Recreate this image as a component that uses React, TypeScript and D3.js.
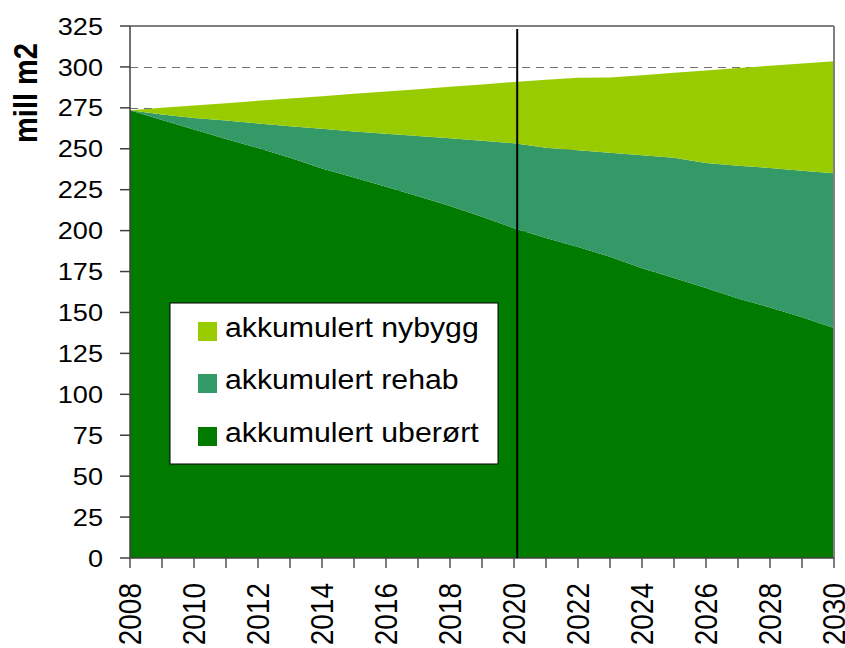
import React from "react";
import * as d3 from "d3";

const years = [
  2008, 2009, 2010, 2011, 2012, 2013, 2014, 2015, 2016, 2017, 2018, 2019,
  2020, 2021, 2022, 2023, 2024, 2025, 2026, 2027, 2028, 2029, 2030,
];
const uberort = [
  273.5, 267.5, 261.8, 256, 250.5, 244.5, 238, 232.5, 226.8, 221, 215, 208.5,
  201.4, 195.5, 190, 184, 177, 171, 165, 158.5, 153, 147, 140.5,
];
const rehab = [
  0, 3.5, 7, 11.2, 15, 19.3, 24.2, 28, 32.4, 36.8, 41.4, 46.4, 52, 55.1, 59.1,
  63.6, 69, 73.5, 76.3, 81.2, 85.2, 89.6, 94.5,
];
const nybygg = [
  0, 4, 7.6, 10.6, 13.8, 16.9, 19.9, 23.1, 25.8, 28.6, 31.5, 34.4, 37.4, 41.6,
  44.3, 45.9, 48.9, 51.9, 56.5, 59.6, 62.5, 65.5, 68.5,
];
const yTicks = [0, 25, 50, 75, 100, 125, 150, 175, 200, 225, 250, 275, 300, 325];
const xLabels = [2008, 2010, 2012, 2014, 2016, 2018, 2020, 2022, 2024, 2026, 2028, 2030];
const markerYear = 2020.1;

const keys = ["uberort", "rehab", "nybygg"];
const colors: Record<string, string> = {
  uberort: "#007B00",
  rehab: "#339966",
  nybygg: "#99CC00",
};
const legendItems = [
  { key: "nybygg", label: "akkumulert nybygg" },
  { key: "rehab", label: "akkumulert rehab" },
  { key: "uberort", label: "akkumulert uberørt" },
];

const W = 845;
const H = 648;
const m = { left: 130, right: 11, top: 26, bottom: 90 };
const font = "'Liberation Sans', Arial, sans-serif";
const sx = 1.13; // the reference text is a little stretched sideways

export default function App() {
  const rows = years.map((y, i) => ({
    year: y,
    uberort: uberort[i],
    rehab: rehab[i],
    nybygg: nybygg[i],
  }));
  const series = d3.stack<any>().keys(keys)(rows);

  const x = d3.scaleLinear().domain([2008, 2030]).range([m.left, W - m.right]);
  const y = d3.scaleLinear().domain([0, 325]).range([H - m.bottom, m.top]);

  const area = d3
    .area<any>()
    .x((d) => x(d.data.year))
    .y0((d) => y(d[0]))
    .y1((d) => y(d[1]));

  const x0 = x(2008);
  const x1 = x(2030);
  const yb = y(0);
  const yt = y(325);

  return (
    <svg
      width={W}
      height={H}
      style={{ position: "absolute", left: 0, top: 0, background: "#fff" }}
      fontFamily={font}
    >
      {/* gridlines */}
      {yTicks
        .filter((t) => t > 0 && t < 325)
        .map((t) => (
          <line
            key={"g" + t}
            x1={x0}
            x2={x1}
            y1={Math.round(y(t)) + 0.5}
            y2={Math.round(y(t)) + 0.5}
            stroke="#707070"
            strokeWidth={1}
            strokeDasharray="8,6"
          />
        ))}

      {/* stacked areas */}
      {series.map((s) => (
        <path key={s.key} d={area(s) || ""} fill={colors[s.key]} />
      ))}

      {/* plot frame */}
      <line x1={x0} x2={x1} y1={yt} y2={yt} stroke="#808080" strokeWidth={2} />
      <line x1={x1} x2={x1} y1={yt} y2={yb} stroke="#808080" strokeWidth={2} />
      <line x1={x0} x2={x0} y1={yt} y2={yb} stroke="#404040" strokeWidth={1.5} />
      <line x1={x0} x2={x1} y1={yb} y2={yb} stroke="#404040" strokeWidth={1.5} />

      {/* 2020 marker */}
      <line
        x1={x(markerYear)}
        x2={x(markerYear)}
        y1={yt + 3}
        y2={yb}
        stroke="#000"
        strokeWidth={2}
      />

      {/* y axis */}
      {yTicks.map((t) => (
        <g key={"y" + t}>
          <line x1={x0 - 10} x2={x0} y1={y(t)} y2={y(t)} stroke="#404040" strokeWidth={1.5} />
          <text
            transform={`translate(103,${y(t)}) scale(${sx},1)`}
            dy="0.36em"
            textAnchor="end"
            fontSize={24}
            fill="#000"
          >
            {t}
          </text>
        </g>
      ))}
      <text
        transform={`translate(25,93) scale(${sx},1) rotate(-90)`}
        dy="0.36em"
        textAnchor="middle"
        fontSize={29}
        fontWeight="bold"
      >
        mill m2
      </text>

      {/* x axis */}
      {years.map((yr) => (
        <line
          key={"xt" + yr}
          x1={x(yr)}
          x2={x(yr)}
          y1={yb}
          y2={yb + 10}
          stroke="#505050"
          strokeWidth={1.5}
        />
      ))}
      {xLabels.map((yr) => (
        <text
          key={"xl" + yr}
          transform={`translate(${x(yr)},583) scale(${sx},1) rotate(-90)`}
          dy="0.36em"
          textAnchor="end"
          fontSize={28}
        >
          {yr}
        </text>
      ))}

      {/* legend */}
      <g transform="translate(170,303)">
        <rect x={0} y={0} width={328} height={161} fill="#fff" stroke="#000" strokeWidth={1} />
        {legendItems.map((it, i) => {
          const base = [34, 86, 139][i];
          return (
            <g key={it.key}>
              <rect x={28} y={base - 15} width={19} height={19} fill={colors[it.key]} />
              <text
                transform={`translate(55,${base}) scale(1.1,1)`}
                fontSize={27.5}
                fill="#000"
              >
                {it.label}
              </text>
            </g>
          );
        })}
      </g>
    </svg>
  );
}
